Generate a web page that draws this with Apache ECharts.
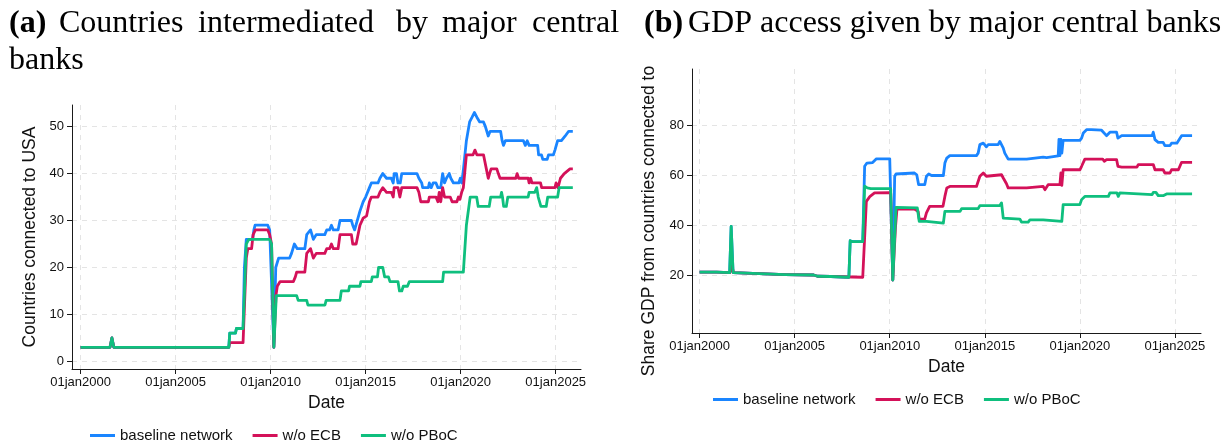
<!DOCTYPE html>
<html>
<head>
<meta charset="utf-8">
<script src="https://cdn.jsdelivr.net/npm/echarts@6.0.0/dist/echarts.min.js"></script>
<style>
  html, body { margin: 0; padding: 0; background: #fff; }
  #chart { width: 1223px; height: 443px; }
</style>
</head>
<body>
<div id="chart"></div>
<script>
// Tick positions (decimal years) and value ticks
const yearTicks = [2000, 2005, 2010, 2015, 2020, 2025];
const countTicks = [0, 10, 20, 30, 40, 50];
const gdpTicks = [20, 40, 60, 80];

const seriesNames = ['baseline network', 'w/o ECB', 'w/o PBoC'];
const seriesColors = ['#1a85ff', '#d41159', '#0fbf7e'];

// Panel (a): countries connected to USA, [decimal year, count]
const countriesBaseline = [[2000,3],[2001.55,3],[2001.65,5],[2001.75,3],[2007.8,3],[2007.85,6],[2008.15,6],[2008.2,7],[2008.55,7],[2008.62,20],[2008.72,26],[2009.05,26],[2009.12,28],[2009.18,29],[2009.85,29],[2009.95,28],[2010.05,28],[2010.17,3],[2010.27,20],[2010.42,22],[2011.0,22],[2011.1,23],[2011.25,25],[2011.4,24],[2011.8,24],[2011.9,27],[2012.1,28],[2012.25,26],[2012.4,27],[2012.85,27],[2012.95,28],[2013.1,28],[2013.2,29],[2013.3,28],[2013.55,28],[2013.65,30],[2014.25,30],[2014.32,29],[2014.42,28],[2014.52,28],[2014.7,32],[2014.87,34],[2015.0,35],[2015.2,37],[2015.3,38],[2015.65,38],[2015.75,39],[2015.9,40],[2016.0,40],[2016.1,39],[2016.35,39],[2016.45,38],[2016.5,40],[2016.62,40],[2016.7,38],[2016.82,38],[2016.9,40],[2017.7,40],[2017.8,39],[2017.95,38],[2018.0,37],[2018.3,37],[2018.35,38],[2018.45,37],[2018.55,38],[2018.7,38],[2018.8,37],[2018.95,37],[2019.05,40],[2019.15,38],[2019.25,39],[2019.4,40],[2019.48,39],[2019.55,39],[2019.62,38],[2019.9,38],[2019.98,39],[2020.05,38],[2020.12,40],[2020.3,47],[2020.47,51],[2020.6,52],[2020.72,53],[2020.85,52],[2021.0,51],[2021.2,51],[2021.3,50],[2021.38,50],[2021.45,48],[2021.55,49],[2021.75,49],[2022.1,49],[2022.18,47],[2022.25,46],[2022.35,47],[2023.3,47],[2023.4,46],[2023.5,47],[2023.6,46],[2024.05,46],[2024.1,44],[2024.25,44],[2024.32,43],[2024.55,43],[2024.62,44],[2024.88,44],[2024.96,45],[2025.1,47],[2025.3,47],[2025.5,48],[2025.68,49],[2025.9,49]];
const countriesNoEcb = [[2000,3],[2001.55,3],[2001.65,5],[2001.75,3],[2007.8,3],[2007.85,4],[2008.55,4],[2008.72,22],[2008.8,24],[2009.0,24],[2009.08,27],[2009.2,28],[2009.85,28],[2009.95,27],[2010.05,25],[2010.17,3],[2010.28,14],[2010.35,16],[2010.5,17],[2011.2,17],[2011.3,18],[2011.37,19],[2011.8,19],[2011.9,23],[2012.1,24],[2012.25,22],[2012.4,23],[2012.85,23],[2012.95,24],[2013.1,24],[2013.2,25],[2013.3,24],[2013.55,24],[2013.65,27],[2014.25,27],[2014.32,25],[2014.5,25],[2014.7,29],[2014.87,30.5],[2015.05,31],[2015.2,34],[2015.3,35],[2015.65,35],[2015.75,36],[2015.9,37],[2016.0,37],[2016.1,36],[2016.35,36],[2016.45,35],[2016.5,37],[2016.7,37],[2016.8,35],[2016.9,37],[2017.7,37],[2017.8,36],[2017.9,34],[2018.3,34],[2018.35,35],[2018.7,35],[2018.8,34],[2018.87,36],[2018.95,34],[2019.05,37],[2019.15,35],[2019.45,35],[2019.55,34],[2019.8,34],[2019.88,35],[2019.96,34.5],[2020.05,36],[2020.14,37],[2020.3,44],[2020.65,44],[2020.75,45],[2020.85,44],[2021.2,44],[2021.35,41],[2021.45,39],[2021.52,40],[2021.6,41],[2021.9,41],[2021.98,40],[2022.07,39],[2022.9,39],[2022.97,40],[2023.05,39],[2023.55,39],[2023.6,38],[2023.68,39],[2023.75,38],[2024.2,38],[2024.26,37],[2024.96,37],[2025.02,38],[2025.12,37],[2025.25,39],[2025.45,40],[2025.75,41],[2025.9,41]];
const countriesNoPboc = [[2000,3],[2001.55,3],[2001.65,5],[2001.75,3],[2007.8,3],[2007.85,6],[2008.15,6],[2008.2,7],[2008.55,7],[2008.72,25],[2008.85,26],[2009.95,26],[2010.05,25],[2010.17,3],[2010.3,14],[2011.37,14],[2011.45,13],[2011.9,13],[2011.96,12],[2012.86,12],[2012.92,13],[2013.65,13],[2013.72,15],[2014.1,15],[2014.15,16],[2014.7,16],[2014.75,17],[2015.3,17],[2015.35,18],[2015.62,18],[2015.68,20],[2015.9,20],[2016.0,18],[2016.2,18],[2016.28,17],[2016.7,17],[2016.78,15],[2016.9,15],[2016.98,16],[2017.2,16],[2017.3,17],[2019.05,17],[2019.1,19],[2020.14,19],[2020.3,29],[2020.5,35],[2020.84,35],[2020.92,33],[2021.5,33],[2021.58,35],[2022.1,35],[2022.15,36],[2022.2,35],[2022.26,33],[2022.4,33],[2022.48,35],[2023.55,35],[2023.6,36],[2023.9,36],[2024.0,37],[2024.08,35],[2024.15,35],[2024.22,33],[2024.5,33],[2024.58,35],[2025.1,35],[2025.18,37],[2025.9,37]];

// Panel (b): share of GDP from connected countries, [decimal year, percent]
const gdpBaseline = [[2000,21.2],[2000.9,21.2],[2001.0,21],[2001.58,21],[2001.66,39.5],[2001.76,21],[2001.85,20.8],[2002.8,20.7],[2004.5,20.2],[2006.0,20],[2006.2,19.5],[2006.9,19.4],[2007.0,19.1],[2007.85,19.1],[2007.92,33.8],[2008.05,33.4],[2008.58,33.4],[2008.68,63.7],[2008.8,65],[2009.1,65.2],[2009.3,66.7],[2010.0,66.7],[2010.05,66.5],[2010.16,18],[2010.26,59.7],[2010.33,60.6],[2011.3,61],[2011.42,60.3],[2011.52,56.3],[2011.84,56.3],[2011.93,59.7],[2012.05,60.6],[2012.12,60.6],[2012.2,60],[2012.82,60],[2012.9,65],[2013.0,67],[2013.16,68],[2014.56,68],[2014.65,69],[2014.74,72.4],[2014.92,73],[2015.08,71.5],[2015.18,72.4],[2015.7,72.4],[2015.79,73.7],[2015.88,74.4],[2015.97,71],[2016.05,69],[2016.23,66.6],[2017.2,66.6],[2017.28,67.4],[2018.07,67.4],[2018.16,66.7],[2018.25,67.2],[2018.33,67.9],[2018.86,67.9],[2018.9,74.5],[2018.95,68],[2019.0,74.5],[2019.05,69],[2019.12,74.1],[2020.0,74.1],[2020.09,75],[2020.18,77.1],[2020.35,78.4],[2020.6,78.4],[2020.7,78.2],[2021.14,78.2],[2021.22,77.4],[2021.4,76],[2021.5,76],[2021.58,77.4],[2021.93,77.4],[2022.0,75],[2022.1,75],[2022.2,76],[2023.8,76],[2023.86,77.4],[2023.95,74.4],[2024.12,73.3],[2024.38,73.3],[2024.47,72],[2024.74,72],[2024.82,73],[2025.1,73],[2025.18,73.7],[2025.35,76],[2025.9,76]];
const gdpNoEcb = [[2000,21.2],[2000.9,21.2],[2001.0,21],[2001.6,21],[2001.7,23.7],[2001.78,21],[2001.85,20.8],[2002.8,20.7],[2004.5,20.2],[2006.0,20],[2006.2,19.5],[2006.9,19.4],[2007.0,19.1],[2008.58,19.1],[2008.77,49.6],[2008.95,51.5],[2009.2,53],[2010.05,53.1],[2010.16,18],[2010.3,39],[2010.38,46.6],[2011.3,46.5],[2011.49,45.6],[2011.55,42.5],[2011.84,42.5],[2011.93,45],[2012.1,47.6],[2012.8,47.6],[2012.9,51.6],[2013.0,55],[2013.16,55.6],[2014.56,55.6],[2014.65,56.3],[2014.74,59.7],[2014.92,61],[2015.08,59.7],[2015.18,60.3],[2015.88,60.3],[2015.9,61],[2015.97,59],[2016.14,56.7],[2016.23,55],[2017.2,55],[2017.28,55.6],[2018.07,55.6],[2018.16,54.3],[2018.33,56.3],[2018.95,56.3],[2019.0,61],[2019.05,56],[2019.12,62.3],[2020.0,62.3],[2020.09,63.7],[2020.26,66.6],[2021.2,66.6],[2021.28,65.7],[2021.4,66.4],[2021.93,66.4],[2022.0,63.7],[2022.1,63.7],[2022.2,63.4],[2023.0,63.4],[2023.07,64.4],[2023.86,64.4],[2023.95,62.3],[2024.38,62.3],[2024.47,61],[2024.74,61],[2024.82,62.3],[2025.18,62.3],[2025.35,65.3],[2025.9,65.3]];
const gdpNoPboc = [[2000,21.2],[2000.9,21.2],[2001.0,21],[2001.58,21],[2001.66,39.5],[2001.76,21],[2001.85,20.8],[2002.8,20.7],[2004.5,20.2],[2006.0,20],[2006.2,19.5],[2006.9,19.4],[2007.0,19.1],[2007.85,19.1],[2007.92,33.8],[2008.05,33.4],[2008.58,33.4],[2008.68,55.7],[2008.82,55],[2009.0,54.7],[2010.05,54.7],[2010.16,18],[2010.33,47.2],[2011.45,47],[2011.55,41.6],[2011.93,41.6],[2012.0,40.9],[2012.82,40.9],[2012.9,45.6],[2013.7,45.6],[2013.78,46.7],[2014.65,46.7],[2014.74,47.9],[2015.79,47.9],[2015.88,49],[2015.97,42.9],[2016.05,42.5],[2016.84,42.5],[2016.93,41.3],[2017.28,41.3],[2017.37,42.2],[2018.07,42.2],[2018.16,41.6],[2019.05,41.6],[2019.12,48.3],[2020.0,48.3],[2020.09,50.3],[2020.26,51.6],[2021.5,51.6],[2021.58,53],[2021.95,53],[2022.02,51.6],[2022.1,53],[2022.2,52.3],[2023.8,52.3],[2023.86,53.2],[2024.0,53.2],[2024.12,51.9],[2024.38,51.9],[2024.56,52.6],[2025.9,52.6]];

const SANS = '"Liberation Sans", Arial, Helvetica, sans-serif';
const SERIF = '"Liberation Serif", "Times New Roman", serif';
const AXIS_COLOR = '#1a1a1a';
const GRID_COLOR = '#e4e4e4';

function xAxisFor(gridIndex, min, max) {
  return {
    gridIndex, type: 'value', min, max,
    name: 'Date', nameLocation: 'middle', nameGap: 25,
    nameTextStyle: { fontFamily: SANS, fontSize: 17.5, color: '#111' },
    axisLine: { show: true, onZero: false, lineStyle: { color: AXIS_COLOR, width: 1 } },
    axisTick: { show: true, length: 5, customValues: yearTicks, lineStyle: { color: AXIS_COLOR } },
    axisLabel: { customValues: yearTicks, margin: 7, fontFamily: SANS, fontSize: 13, color: '#111',
                 formatter: v => '01jan' + v },
    splitLine: { show: true, lineStyle: { color: GRID_COLOR, type: [5, 5], width: 1 } }
  };
}

function yAxisFor(gridIndex, min, max, ticks, name, nameGap, namePadding) {
  return {
    gridIndex, type: 'value', min, max,
    name, nameLocation: 'middle', nameGap,
    nameTextStyle: { fontFamily: SANS, fontSize: 17.5, color: '#111', padding: namePadding },
    axisLine: { show: true, onZero: false, lineStyle: { color: AXIS_COLOR, width: 1 } },
    axisTick: { show: true, length: 5, customValues: ticks, lineStyle: { color: AXIS_COLOR } },
    axisLabel: { customValues: ticks, margin: 8, fontFamily: SANS, fontSize: 13, color: '#111' },
    splitLine: { show: true, lineStyle: { color: GRID_COLOR, type: [5, 5], width: 1 } }
  };
}

function lineSeries(name, color, data, idx) {
  return {
    name, type: 'line', data, xAxisIndex: idx, yAxisIndex: idx,
    showSymbol: false, symbol: 'none', animation: false,
    lineStyle: { color, width: 2.8, join: 'round' },
    itemStyle: { color }, z: 2
  };
}

function legendAt(left, top) {
  return {
    left, top, orient: 'horizontal', itemGap: 20, itemWidth: 25, itemHeight: 3,
    icon: 'rect', selectedMode: false, data: seriesNames,
    textStyle: { fontFamily: SANS, fontSize: 15, color: '#111' }
  };
}

function word(text, x, y, bold) {
  return {
    type: 'text', x, y, silent: true,
    style: { text, fill: '#000', font: (bold ? 'bold ' : '') + '32px ' + SERIF,
             align: 'left', verticalAlign: 'middle' }
  };
}

// Panel headings; the first line of (a) is spread across its column
const headings = [
  word('(a)', 9, 24, true), word('Countries', 59, 24), word('intermediated', 198, 24),
  word('by', 396, 24), word('major', 442, 24), word('central', 532, 24),
  word('banks', 9, 61),
  word('(b)', 644, 24, true), word('GDP access given by major central banks', 688, 24)
];

const chart = echarts.init(document.getElementById('chart'), null, { renderer: 'canvas' });
chart.setOption({
  backgroundColor: '#fff',
  animation: false,
  graphic: headings,
  grid: [
    { left: 72, top: 105, width: 509, height: 264, containLabel: false },
    { left: 692, top: 69, width: 509, height: 264, containLabel: false }
  ],
  legend: [legendAt(85, 423), legendAt(708, 387)],
  xAxis: [xAxisFor(0, 1999.55, 2026.33), xAxisFor(1, 1999.6, 2026.37)],
  yAxis: [
    yAxisFor(0, -1.62, 54.6, countTicks, 'Countries connected to USA', 33, 0),
    yAxisFor(1, -3.3, 102.8, gdpTicks, 'Share GDP from countries connected to', 34, [0, 40, 0, 0])
  ],
  series: [
    lineSeries(seriesNames[0], seriesColors[0], countriesBaseline, 0),
    lineSeries(seriesNames[1], seriesColors[1], countriesNoEcb, 0),
    lineSeries(seriesNames[2], seriesColors[2], countriesNoPboc, 0),
    lineSeries(seriesNames[0], seriesColors[0], gdpBaseline, 1),
    lineSeries(seriesNames[1], seriesColors[1], gdpNoEcb, 1),
    lineSeries(seriesNames[2], seriesColors[2], gdpNoPboc, 1)
  ]
});
</script>
</body>
</html>
